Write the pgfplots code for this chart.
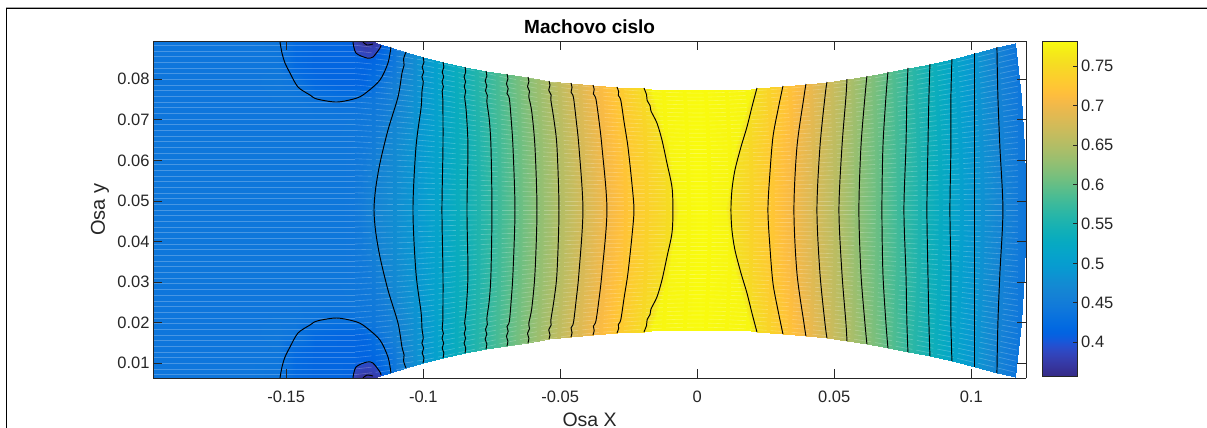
\documentclass[border=0pt]{standalone}
\usepackage{fontspec}
\setmainfont{Liberation Sans}
\usepackage{pgfplots}
\usepackage{pgfplotstable}
\pgfplotsset{compat=1.18}
\definecolor{axc}{rgb}{0.15,0.15,0.15}
\pgfplotsset{colormap={parula}{rgb=(0.2081,0.1663,0.5292) rgb=(0.2116,0.1898,0.5777) rgb=(0.2123,0.2138,0.6270) rgb=(0.2081,0.2386,0.6771) rgb=(0.1959,0.2645,0.7279) rgb=(0.1707,0.2919,0.7792) rgb=(0.1253,0.3242,0.8303) rgb=(0.0591,0.3598,0.8683) rgb=(0.0117,0.3875,0.8820) rgb=(0.0060,0.4086,0.8828) rgb=(0.0165,0.4266,0.8786) rgb=(0.0329,0.4430,0.8720) rgb=(0.0498,0.4586,0.8641) rgb=(0.0629,0.4737,0.8554) rgb=(0.0723,0.4887,0.8467) rgb=(0.0779,0.5040,0.8384) rgb=(0.0793,0.5200,0.8312) rgb=(0.0749,0.5375,0.8263) rgb=(0.0641,0.5570,0.8240) rgb=(0.0488,0.5772,0.8228) rgb=(0.0343,0.5966,0.8199) rgb=(0.0265,0.6137,0.8135) rgb=(0.0239,0.6287,0.8038) rgb=(0.0231,0.6418,0.7913) rgb=(0.0228,0.6535,0.7768) rgb=(0.0267,0.6642,0.7607) rgb=(0.0384,0.6743,0.7436) rgb=(0.0590,0.6838,0.7254) rgb=(0.0843,0.6928,0.7062) rgb=(0.1133,0.7015,0.6859) rgb=(0.1453,0.7098,0.6646) rgb=(0.1801,0.7177,0.6424) rgb=(0.2178,0.7250,0.6193) rgb=(0.2586,0.7317,0.5954) rgb=(0.3022,0.7376,0.5712) rgb=(0.3482,0.7424,0.5473) rgb=(0.3953,0.7459,0.5244) rgb=(0.4420,0.7481,0.5033) rgb=(0.4871,0.7491,0.4840) rgb=(0.5300,0.7491,0.4661) rgb=(0.5709,0.7485,0.4494) rgb=(0.6099,0.7473,0.4337) rgb=(0.6473,0.7456,0.4188) rgb=(0.6834,0.7435,0.4044) rgb=(0.7184,0.7411,0.3905) rgb=(0.7525,0.7384,0.3768) rgb=(0.7858,0.7356,0.3633) rgb=(0.8185,0.7327,0.3498) rgb=(0.8507,0.7299,0.3360) rgb=(0.8824,0.7274,0.3217) rgb=(0.9139,0.7258,0.3063) rgb=(0.9450,0.7261,0.2886) rgb=(0.9739,0.7314,0.2666) rgb=(0.9938,0.7455,0.2403) rgb=(0.9990,0.7653,0.2164) rgb=(0.9955,0.7861,0.1967) rgb=(0.9880,0.8066,0.1794) rgb=(0.9789,0.8271,0.1633) rgb=(0.9697,0.8481,0.1475) rgb=(0.9626,0.8705,0.1309) rgb=(0.9589,0.8949,0.1132) rgb=(0.9598,0.9218,0.0948) rgb=(0.9661,0.9514,0.0755) rgb=(0.9763,0.9831,0.0538)}}
% pale mesh rows: first column x, then the y of each row at that x
\pgfplotstableread[header=false]{
-0.19865 0.0464 0.0450 0.0436 0.0422 0.0408 0.0394 0.0380 0.0366 0.0352 0.0338 0.0324 0.0310 0.0296 0.0282 0.0268 0.0254 0.0240 0.0226 0.0212 0.0198 0.0184 0.0170 0.0156 0.0142 0.0128 0.0114 0.0100 0.0086 0.0072 0.0492 0.0506 0.0520 0.0534 0.0548 0.0562 0.0576 0.0590 0.0604 0.0618 0.0632 0.0646 0.0660 0.0674 0.0688 0.0702 0.0716 0.0730 0.0744 0.0758 0.0772 0.0786 0.0800 0.0814 0.0828 0.0842 0.0856 0.0870 0.0884 0.0478
-0.125 0.0464 0.0450 0.0436 0.0422 0.0408 0.0394 0.0380 0.0366 0.0352 0.0338 0.0324 0.0310 0.0296 0.0282 0.0268 0.0254 0.0240 0.0226 0.0212 0.0198 0.0184 0.0170 0.0156 0.0142 0.0128 0.0114 0.0100 0.0086 0.0072 0.0492 0.0506 0.0520 0.0534 0.0548 0.0562 0.0576 0.0590 0.0604 0.0618 0.0632 0.0646 0.0660 0.0674 0.0688 0.0702 0.0716 0.0730 0.0744 0.0758 0.0772 0.0786 0.0800 0.0814 0.0828 0.0842 0.0856 0.0870 0.0884 0.0478
}\streakL
\pgfplotstableread[header=false]{
-0.125 0.0464 0.0450 0.0436 0.0422 0.0408 0.0394 0.0380 0.0366 0.0352 0.0338 0.0324 0.0310 0.0296 0.0282 0.0268 0.0254 0.0240 0.0226 0.0212 0.0198 0.0184 0.0170 0.0156 0.0142 0.0128 0.0114 0.0100 0.0086 0.0072 0.0492 0.0506 0.0520 0.0534 0.0548 0.0562 0.0576 0.0590 0.0604 0.0618 0.0632 0.0646 0.0660 0.0674 0.0688 0.0702 0.0716 0.0730 0.0744 0.0758 0.0772 0.0786 0.0800 0.0814 0.0828 0.0842 0.0856 0.0870 0.0884 0.0478
-0.10 0.0465 0.0451 0.0438 0.0425 0.0412 0.0399 0.0385 0.0372 0.0359 0.0346 0.0333 0.0319 0.0306 0.0293 0.0280 0.0267 0.0253 0.0240 0.0227 0.0214 0.0201 0.0187 0.0174 0.0161 0.0148 0.0135 0.0121 0.0108 0.0095 0.0491 0.0504 0.0517 0.0531 0.0544 0.0557 0.0570 0.0583 0.0597 0.0610 0.0623 0.0636 0.0649 0.0663 0.0676 0.0689 0.0702 0.0715 0.0729 0.0742 0.0755 0.0768 0.0781 0.0795 0.0808 0.0821 0.0834 0.0847 0.0861 0.0478
-0.05 0.0467 0.0456 0.0446 0.0435 0.0424 0.0413 0.0402 0.0392 0.0381 0.0370 0.0359 0.0348 0.0338 0.0327 0.0316 0.0305 0.0295 0.0284 0.0273 0.0262 0.0251 0.0241 0.0230 0.0219 0.0208 0.0198 0.0187 0.0176 0.0165 0.0489 0.0499 0.0510 0.0521 0.0532 0.0543 0.0553 0.0564 0.0575 0.0586 0.0596 0.0607 0.0618 0.0629 0.0640 0.0650 0.0661 0.0672 0.0683 0.0693 0.0704 0.0715 0.0726 0.0737 0.0747 0.0758 0.0769 0.0780 0.0790 0.0478
0 0.0468 0.0458 0.0448 0.0438 0.0428 0.0418 0.0408 0.0398 0.0388 0.0378 0.0368 0.0358 0.0348 0.0339 0.0329 0.0319 0.0309 0.0299 0.0289 0.0279 0.0269 0.0259 0.0249 0.0239 0.0229 0.0219 0.0209 0.0199 0.0189 0.0488 0.0498 0.0508 0.0518 0.0528 0.0537 0.0548 0.0557 0.0567 0.0577 0.0587 0.0597 0.0607 0.0617 0.0627 0.0637 0.0647 0.0657 0.0667 0.0677 0.0687 0.0697 0.0707 0.0717 0.0727 0.0737 0.0747 0.0756 0.0766 0.0478
0.05 0.0467 0.0456 0.0446 0.0435 0.0424 0.0413 0.0403 0.0392 0.0381 0.0370 0.0360 0.0349 0.0338 0.0327 0.0317 0.0306 0.0295 0.0284 0.0274 0.0263 0.0252 0.0241 0.0231 0.0220 0.0209 0.0199 0.0188 0.0177 0.0166 0.0489 0.0499 0.0510 0.0521 0.0532 0.0542 0.0553 0.0564 0.0575 0.0585 0.0596 0.0607 0.0617 0.0628 0.0639 0.0650 0.0660 0.0671 0.0682 0.0693 0.0703 0.0714 0.0725 0.0736 0.0746 0.0757 0.0768 0.0779 0.0789 0.0478
0.09 0.0465 0.0453 0.0441 0.0428 0.0416 0.0404 0.0391 0.0379 0.0367 0.0354 0.0342 0.0330 0.0317 0.0305 0.0292 0.0280 0.0268 0.0255 0.0243 0.0231 0.0218 0.0206 0.0194 0.0181 0.0169 0.0156 0.0144 0.0132 0.0119 0.0490 0.0503 0.0515 0.0527 0.0540 0.0552 0.0564 0.0577 0.0589 0.0601 0.0614 0.0626 0.0639 0.0651 0.0663 0.0676 0.0688 0.0700 0.0713 0.0725 0.0737 0.0750 0.0762 0.0774 0.0787 0.0799 0.0812 0.0824 0.0836 0.0478
0.117 0.0464 0.0450 0.0436 0.0422 0.0408 0.0395 0.0381 0.0367 0.0353 0.0339 0.0325 0.0312 0.0298 0.0284 0.0270 0.0256 0.0242 0.0228 0.0215 0.0201 0.0187 0.0173 0.0159 0.0145 0.0132 0.0118 0.0104 0.0090 0.0076 0.0492 0.0506 0.0519 0.0533 0.0547 0.0561 0.0575 0.0589 0.0603 0.0616 0.0630 0.0644 0.0658 0.0672 0.0686 0.0700 0.0713 0.0727 0.0741 0.0755 0.0769 0.0783 0.0797 0.0810 0.0824 0.0838 0.0852 0.0866 0.0880 0.0478
}\streakR
\begin{document}
\begin{tikzpicture}
\path[use as bounding box] (0,0) rectangle (1207pt,428pt);
\draw[gray!70,line width=1pt] (6pt,0) -- (6pt,420.6pt) -- (1207pt,420.6pt);
\draw[black,line width=1.2pt] (6.8pt,0) -- (6.8pt,419.7pt) -- (1207pt,419.7pt);
\begin{axis}[
 at={(153pt,49.7pt)},anchor=south west,
 scale only axis,width=873.3pt,height=337pt,
 view={0}{90},
 xmin=-0.19865,xmax=0.1201,ymin=0.0063,ymax=0.08937,
 point meta min=0.3573,point meta max=0.7813,
 colormap name=parula,
 axis on top,
 scaled x ticks=false,scaled y ticks=false,
 axis line style={axc,line width=0.8pt},
 tick style={axc,line width=0.8pt},
 tick align=inside,major tick length=9pt,
 font=\fontsize{16.5}{18}\selectfont,
 tick label style={text=axc},
 xticklabel style={yshift=-9pt},
 xtick={-0.15,-0.1,-0.05,0,0.05,0.1},
 xticklabels={-0.15,-0.1,-0.05,0,0.05,0.1},
 ytick={0.01,0.02,0.03,0.04,0.05,0.06,0.07,0.08},
 yticklabels={0.01,0.02,0.03,0.04,0.05,0.06,0.07,0.08},
 title={\textbf{Machovo cislo}},
 title style={at={(axis description cs:0.5,1)},anchor=center,yshift=9pt,font=\fontsize{19}{21}\selectfont},
 xlabel={Osa X},
 xlabel style={at={(axis description cs:0.5,0)},anchor=center,inner sep=0pt,yshift=-41.5pt,font=\fontsize{19.5}{21}\selectfont,text=axc},
 ylabel={Osa y},
 ylabel style={at={(axis description cs:0,0.5)},anchor=center,yshift=53pt,font=\fontsize{20}{22}\selectfont,text=axc},
]
% left part of the field
\addplot3[surf,shader=interp] table {
-0.19865 0.08937 0.44
-0.16325 0.08937 0.44
-0.15303 0.08937 0.438
-0.14683 0.08937 0.42
-0.13953 0.08937 0.415
-0.13040 0.08937 0.415
-0.12566 0.08937 0.41
-0.12091 0.08937 0.36
-0.11580 0.08870 0.405
-0.11106 0.08771 0.435
-0.10631 0.08673 0.4633

-0.19865 0.08796 0.44
-0.16325 0.08796 0.44
-0.15303 0.08796 0.438
-0.14683 0.08796 0.42
-0.13953 0.08796 0.415
-0.13040 0.08796 0.415
-0.12566 0.08796 0.412
-0.12091 0.08796 0.39
-0.11580 0.08722 0.413
-0.11106 0.08624 0.44
-0.10668 0.08574 0.4633

-0.19865 0.08476 0.44
-0.16325 0.08476 0.44
-0.15303 0.08476 0.44
-0.14683 0.08476 0.42
-0.13953 0.08476 0.415
-0.13040 0.08476 0.415
-0.12566 0.08476 0.415
-0.12091 0.08476 0.412
-0.11580 0.08476 0.42
-0.11142 0.08476 0.437
-0.10686 0.08476 0.4633

-0.19865 0.08229 0.44
-0.16325 0.08229 0.44
-0.15303 0.08229 0.441
-0.14683 0.08229 0.422
-0.13953 0.08229 0.415
-0.13040 0.08229 0.415
-0.12566 0.08229 0.415
-0.12128 0.08229 0.415
-0.11653 0.08229 0.425
-0.11215 0.08229 0.44
-0.10741 0.08229 0.4633

-0.19865 0.07860 0.44
-0.16325 0.07860 0.44
-0.15303 0.07860 0.442
-0.14683 0.07860 0.438
-0.13953 0.07860 0.42
-0.13040 0.07860 0.415
-0.12602 0.07860 0.415
-0.12164 0.07860 0.415
-0.11726 0.07860 0.433
-0.11288 0.07860 0.45
-0.10832 0.07860 0.4633

-0.19865 0.07490 0.44
-0.16325 0.07490 0.44
-0.15303 0.07490 0.441
-0.14683 0.07490 0.441
-0.13953 0.07490 0.4368
-0.13040 0.07490 0.433
-0.12639 0.07490 0.433
-0.12201 0.07490 0.44
-0.11799 0.07490 0.443
-0.11361 0.07490 0.45
-0.10960 0.07490 0.4633

-0.19865 0.06997 0.44
-0.16325 0.06997 0.44
-0.15303 0.06997 0.44
-0.14683 0.06997 0.44
-0.13953 0.06997 0.44
-0.13040 0.06997 0.44
-0.12675 0.06997 0.441
-0.12274 0.06997 0.442
-0.11909 0.06997 0.446
-0.11507 0.06997 0.452
-0.11142 0.06997 0.4633

-0.19865 0.06504 0.441
-0.16325 0.06504 0.441
-0.15303 0.06504 0.441
-0.14683 0.06504 0.441
-0.13953 0.06504 0.441
-0.13040 0.06504 0.441
-0.12712 0.06504 0.442
-0.12383 0.06504 0.443
-0.12018 0.06504 0.447
-0.11690 0.06504 0.454
-0.11361 0.06504 0.4633

-0.19865 0.05764 0.441
-0.16325 0.05764 0.441
-0.15303 0.05764 0.441
-0.14683 0.05764 0.441
-0.13953 0.05764 0.441
-0.13040 0.05764 0.441
-0.12748 0.05764 0.442
-0.12493 0.05764 0.444
-0.12201 0.05764 0.448
-0.11909 0.05764 0.455
-0.11580 0.05764 0.4633

-0.19865 0.04778 0.441
-0.16325 0.04778 0.441
-0.15303 0.04778 0.441
-0.14683 0.04778 0.441
-0.13953 0.04778 0.441
-0.13040 0.04778 0.441
-0.12785 0.04778 0.442
-0.12529 0.04778 0.444
-0.12310 0.04778 0.448
-0.12055 0.04778 0.455
-0.11799 0.04778 0.4633

-0.19865 0.03792 0.441
-0.16325 0.03792 0.441
-0.15303 0.03792 0.441
-0.14683 0.03792 0.441
-0.13953 0.03792 0.441
-0.13040 0.03792 0.441
-0.12748 0.03792 0.442
-0.12493 0.03792 0.444
-0.12201 0.03792 0.448
-0.11909 0.03792 0.455
-0.11580 0.03792 0.4633

-0.19865 0.03052 0.441
-0.16325 0.03052 0.441
-0.15303 0.03052 0.441
-0.14683 0.03052 0.441
-0.13953 0.03052 0.441
-0.13040 0.03052 0.441
-0.12712 0.03052 0.442
-0.12383 0.03052 0.443
-0.12018 0.03052 0.447
-0.11690 0.03052 0.454
-0.11361 0.03052 0.4633

-0.19865 0.02559 0.44
-0.16325 0.02559 0.44
-0.15303 0.02559 0.44
-0.14683 0.02559 0.44
-0.13953 0.02559 0.44
-0.13040 0.02559 0.44
-0.12675 0.02559 0.441
-0.12274 0.02559 0.442
-0.11909 0.02559 0.446
-0.11507 0.02559 0.452
-0.11142 0.02559 0.4633

-0.19865 0.02066 0.44
-0.16325 0.02066 0.44
-0.15303 0.02066 0.441
-0.14683 0.02066 0.441
-0.13953 0.02066 0.4368
-0.13040 0.02066 0.433
-0.12639 0.02066 0.433
-0.12201 0.02066 0.44
-0.11799 0.02066 0.443
-0.11361 0.02066 0.45
-0.10960 0.02066 0.4633

-0.19865 0.01696 0.44
-0.16325 0.01696 0.44
-0.15303 0.01696 0.442
-0.14683 0.01696 0.438
-0.13953 0.01696 0.42
-0.13040 0.01696 0.415
-0.12602 0.01696 0.415
-0.12164 0.01696 0.415
-0.11726 0.01696 0.433
-0.11288 0.01696 0.45
-0.10832 0.01696 0.4633

-0.19865 0.01327 0.44
-0.16325 0.01327 0.44
-0.15303 0.01327 0.441
-0.14683 0.01327 0.422
-0.13953 0.01327 0.415
-0.13040 0.01327 0.415
-0.12566 0.01327 0.415
-0.12128 0.01327 0.415
-0.11653 0.01327 0.425
-0.11215 0.01327 0.44
-0.10741 0.01327 0.4633

-0.19865 0.01080 0.44
-0.16325 0.01080 0.44
-0.15303 0.01080 0.44
-0.14683 0.01080 0.42
-0.13953 0.01080 0.415
-0.13040 0.01080 0.415
-0.12566 0.01080 0.415
-0.12091 0.01080 0.412
-0.11580 0.01080 0.42
-0.11142 0.01080 0.437
-0.10686 0.01080 0.4633

-0.19865 0.00760 0.44
-0.16325 0.00760 0.44
-0.15303 0.00760 0.438
-0.14683 0.00760 0.42
-0.13953 0.00760 0.415
-0.13040 0.00760 0.415
-0.12566 0.00760 0.412
-0.12091 0.00760 0.39
-0.11580 0.00834 0.413
-0.11106 0.00932 0.44
-0.10668 0.00982 0.4633

-0.19865 0.00619 0.44
-0.16325 0.00619 0.44
-0.15303 0.00619 0.438
-0.14683 0.00619 0.42
-0.13953 0.00619 0.415
-0.13040 0.00619 0.415
-0.12566 0.00619 0.41
-0.12091 0.00619 0.36
-0.11580 0.00686 0.405
-0.11106 0.00785 0.435
-0.10631 0.00883 0.4633
};
% the two dark spots at the wall
\addplot3[surf,shader=interp] table {
-0.12566 0.08937 0.385
-0.12201 0.08937 0.36
-0.11836 0.08937 0.365
-0.11543 0.08845 0.385

-0.12530 0.08796 0.385
-0.12128 0.08771 0.378
-0.11836 0.08796 0.38
-0.11580 0.08780 0.388

-0.12457 0.08648 0.39
-0.12055 0.08525 0.39
-0.11836 0.08550 0.39
-0.11580 0.08771 0.39
};
\addplot3[surf,shader=interp] table {
-0.12566 0.00619 0.385
-0.12201 0.00619 0.36
-0.11836 0.00619 0.365
-0.11543 0.00711 0.385

-0.12530 0.00760 0.385
-0.12128 0.00785 0.378
-0.11836 0.00760 0.38
-0.11580 0.00776 0.388

-0.12457 0.00908 0.39
-0.12055 0.01031 0.39
-0.11836 0.01006 0.39
-0.11580 0.00785 0.39
};
% right part of the field: each scanline runs along one contour
\addplot3[surf,shader=interp] table {
-0.10631 0.08673 0.4633
-0.10923 0.07564 0.4633
-0.11471 0.06331 0.4633
-0.11799 0.04778 0.4633
-0.11471 0.03225 0.4633
-0.10923 0.01992 0.4633
-0.10631 0.00883 0.4633

-0.10011 0.08550 0.4898
-0.10047 0.07564 0.4898
-0.10266 0.06331 0.4898
-0.10376 0.04778 0.4898
-0.10266 0.03225 0.4898
-0.10047 0.01992 0.4898
-0.10011 0.01006 0.4898

-0.09281 0.08426 0.5163
-0.09281 0.07564 0.5163
-0.09281 0.06331 0.5163
-0.09318 0.04778 0.5163
-0.09281 0.03225 0.5163
-0.09281 0.01992 0.5163
-0.09281 0.01130 0.5163

-0.08478 0.08303 0.5428
-0.08478 0.07564 0.5428
-0.08369 0.06331 0.5428
-0.08405 0.04778 0.5428
-0.08369 0.03225 0.5428
-0.08478 0.01992 0.5428
-0.08478 0.01253 0.5428

-0.07712 0.08205 0.5693
-0.07675 0.07564 0.5693
-0.07529 0.06331 0.5693
-0.07493 0.04778 0.5693
-0.07529 0.03225 0.5693
-0.07675 0.01992 0.5693
-0.07712 0.01351 0.5693

-0.06945 0.08131 0.5958
-0.06872 0.07564 0.5958
-0.06726 0.06331 0.5958
-0.06653 0.04778 0.5958
-0.06726 0.03225 0.5958
-0.06872 0.01992 0.5958
-0.06945 0.01425 0.5958

-0.06179 0.08057 0.6223
-0.06106 0.07564 0.6223
-0.05923 0.06331 0.6223
-0.05850 0.04778 0.6223
-0.05923 0.03225 0.6223
-0.06106 0.01992 0.6223
-0.06179 0.01499 0.6223

-0.05412 0.07958 0.6488
-0.05303 0.07564 0.6488
-0.05120 0.06331 0.6488
-0.05047 0.04778 0.6488
-0.05120 0.03225 0.6488
-0.05303 0.01992 0.6488
-0.05412 0.01598 0.6488

-0.04609 0.07909 0.6753
-0.04537 0.07564 0.6753
-0.04318 0.06331 0.6753
-0.04172 0.04778 0.6753
-0.04318 0.03225 0.6753
-0.04537 0.01992 0.6753
-0.04609 0.01647 0.6753

-0.03807 0.07859 0.7018
-0.03734 0.07564 0.7018
-0.03478 0.06331 0.7018
-0.03296 0.04778 0.7018
-0.03478 0.03225 0.7018
-0.03734 0.01992 0.7018
-0.03807 0.01697 0.7018

-0.02931 0.07810 0.7283
-0.02821 0.07564 0.7283
-0.02529 0.06331 0.7283
-0.02310 0.04778 0.7283
-0.02529 0.03225 0.7283
-0.02821 0.01992 0.7283
-0.02931 0.01746 0.7283

-0.01945 0.07785 0.7548
-0.01799 0.07490 0.7548
-0.01252 0.06331 0.7548
-0.00887 0.04778 0.7548
-0.01252 0.03225 0.7548
-0.01799 0.02066 0.7548
-0.01945 0.01771 0.7548

-0.01700 0.07760 0.777
-0.01550 0.07490 0.777
-0.01030 0.06331 0.777
-0.00667 0.04778 0.777
-0.01030 0.03225 0.777
-0.01550 0.02066 0.777
-0.01700 0.01796 0.777

0.00099 0.07736 0.7813
0.00099 0.07564 0.7813
0.00135 0.06331 0.7813
0.00172 0.04778 0.7813
0.00135 0.03225 0.7813
0.00099 0.01992 0.7813
0.00099 0.01820 0.7813

0.01960 0.07760 0.777
0.01886 0.07564 0.777
0.01375 0.06331 0.777
0.01010 0.04778 0.777
0.01375 0.03225 0.777
0.01886 0.01992 0.777
0.01960 0.01796 0.777

0.02179 0.07785 0.7548
0.02106 0.07564 0.7548
0.01595 0.06331 0.7548
0.01230 0.04778 0.7548
0.01595 0.03225 0.7548
0.02106 0.01992 0.7548
0.02179 0.01771 0.7548

0.03128 0.07835 0.7283
0.03055 0.07564 0.7283
0.02726 0.06331 0.7283
0.02580 0.04778 0.7283
0.02726 0.03225 0.7283
0.03055 0.01992 0.7283
0.03128 0.01721 0.7283

0.03967 0.07884 0.7018
0.03894 0.07564 0.7018
0.03639 0.06331 0.7018
0.03529 0.04778 0.7018
0.03639 0.03225 0.7018
0.03894 0.01992 0.7018
0.03967 0.01672 0.7018

0.04734 0.07933 0.6753
0.04661 0.07564 0.6753
0.04478 0.06331 0.6753
0.04369 0.04778 0.6753
0.04478 0.03225 0.6753
0.04661 0.01992 0.6753
0.04734 0.01623 0.6753

0.05464 0.08007 0.6488
0.05427 0.07564 0.6488
0.05281 0.06331 0.6488
0.05172 0.04778 0.6488
0.05281 0.03225 0.6488
0.05427 0.01992 0.6488
0.05464 0.01549 0.6488

0.06193 0.08081 0.6223
0.06120 0.07564 0.6223
0.05974 0.06331 0.6223
0.05901 0.04778 0.6223
0.05974 0.03225 0.6223
0.06120 0.01992 0.6223
0.06193 0.01475 0.6223

0.06960 0.08180 0.5958
0.06887 0.07564 0.5958
0.06777 0.06331 0.5958
0.06741 0.04778 0.5958
0.06777 0.03225 0.5958
0.06887 0.01992 0.5958
0.06960 0.01376 0.5958

0.07690 0.08279 0.5693
0.07653 0.07564 0.5693
0.07617 0.06331 0.5693
0.07544 0.04778 0.5693
0.07617 0.03225 0.5693
0.07653 0.01992 0.5693
0.07690 0.01277 0.5693

0.08493 0.08377 0.5428
0.08456 0.07564 0.5428
0.08420 0.06331 0.5428
0.08383 0.04778 0.5428
0.08420 0.03225 0.5428
0.08456 0.01992 0.5428
0.08493 0.01179 0.5428

0.09296 0.08500 0.5163
0.09259 0.07564 0.5163
0.09259 0.06331 0.5163
0.09223 0.04778 0.5163
0.09259 0.03225 0.5163
0.09259 0.01992 0.5163
0.09296 0.01056 0.5163

0.10135 0.08648 0.4898
0.10135 0.07564 0.4898
0.10135 0.06331 0.4898
0.10135 0.04778 0.4898
0.10135 0.03225 0.4898
0.10135 0.01992 0.4898
0.10135 0.00908 0.4898

0.10938 0.08796 0.4633
0.10974 0.07564 0.4633
0.11047 0.06331 0.4633
0.11157 0.04778 0.4633
0.11047 0.03225 0.4633
0.10974 0.01992 0.4633
0.10938 0.00760 0.4633

0.11595 0.08895 0.44
0.11815 0.07564 0.44
0.11923 0.06331 0.44
0.11996 0.04778 0.44
0.11923 0.03225 0.44
0.11815 0.01992 0.44
0.11595 0.00661 0.44
};
% pale mesh rows
\pgfplotsinvokeforeach{1,...,59}{
 \addplot[white,opacity=0.24,line width=0.6pt,no markers,forget plot] table[x index=0,y index=#1] {\streakL};
 \addplot[white,opacity=0.24,line width=0.6pt,no markers,forget plot,smooth,tension=0.5,dash pattern=on 17pt off 4pt] table[x index=0,y index=#1] {\streakR};
}
% contour lines
\pgfplotsset{cline/.style={black,line width=0.95pt,smooth,tension=0.5,no markers}}
\addplot[cline] coordinates {(-0.10631,0.08673)(-0.10720,0.08500)(-0.10700,0.08350)(-0.10777,0.08155)(-0.10923,0.07564)(-0.11288,0.06750)(-0.11580,0.05936)(-0.11740,0.05300)(-0.11799,0.04778)(-0.11740,0.04256)(-0.11580,0.03620)(-0.11288,0.02806)(-0.10923,0.01992)(-0.10777,0.01401)(-0.10700,0.01206)(-0.10720,0.01056)(-0.10631,0.00883)};
\addplot[cline] coordinates {(-0.10011,0.0855)(-0.09975,0.0842)(-0.10040,0.0830)(-0.09985,0.0818)(-0.10050,0.0806)(-0.10000,0.0794)(-0.10047,0.0770)(-0.10080,0.0730)(-0.10266,0.06331)(-0.10376,0.04778)(-0.10266,0.03225)(-0.10080,0.02256)(-0.10047,0.01856)(-0.10000,0.01616)(-0.10050,0.01496)(-0.09985,0.01376)(-0.10040,0.01256)(-0.09975,0.01136)(-0.10011,0.01006)};
\addplot[cline] coordinates {(-0.09281,0.08426)(-0.09250,0.0830)(-0.09310,0.0818)(-0.09255,0.0806)(-0.09315,0.0794)(-0.09265,0.0782)(-0.09310,0.0770)(-0.09285,0.0745)(-0.09281,0.06331)(-0.09318,0.04778)(-0.09281,0.03225)(-0.09285,0.02106)(-0.09310,0.01856)(-0.09265,0.01736)(-0.09315,0.01616)(-0.09255,0.01496)(-0.09310,0.01376)(-0.09250,0.01256)(-0.09281,0.0113)};
\addplot[cline] coordinates {(-0.08478,0.08303)(-0.08450,0.0818)(-0.08510,0.0806)(-0.08455,0.0794)(-0.08505,0.0782)(-0.08450,0.0770)(-0.08490,0.0757)(-0.08430,0.0720)(-0.08369,0.06331)(-0.08405,0.04778)(-0.08369,0.03225)(-0.08430,0.02356)(-0.08490,0.01986)(-0.08450,0.01856)(-0.08505,0.01736)(-0.08455,0.01616)(-0.08510,0.01496)(-0.08450,0.01376)(-0.08478,0.01253)};
\addplot[cline] coordinates {(-0.07712,0.08205)(-0.07680,0.0808)(-0.07740,0.0796)(-0.07680,0.0784)(-0.07730,0.0772)(-0.07660,0.0760)(-0.07680,0.0745)(-0.07590,0.0700)(-0.07529,0.06331)(-0.07493,0.04778)(-0.07529,0.03225)(-0.07590,0.02556)(-0.07680,0.02106)(-0.07660,0.01956)(-0.07730,0.01836)(-0.07680,0.01716)(-0.07740,0.01596)(-0.07680,0.01476)(-0.07712,0.01351)};
\addplot[cline] coordinates {(-0.06945,0.08131)(-0.06910,0.0801)(-0.06965,0.0789)(-0.06900,0.0777)(-0.06945,0.0765)(-0.06860,0.0753)(-0.06790,0.0700)(-0.06726,0.06331)(-0.06653,0.04778)(-0.06726,0.03225)(-0.06790,0.02556)(-0.06860,0.02026)(-0.06945,0.01906)(-0.06900,0.01786)(-0.06965,0.01666)(-0.06910,0.01546)(-0.06945,0.01425)};
\addplot[cline] coordinates {(-0.06179,0.08057)(-0.06145,0.0794)(-0.06195,0.0782)(-0.06120,0.0770)(-0.06150,0.0758)(-0.06040,0.0720)(-0.05923,0.06331)(-0.05850,0.04778)(-0.05923,0.03225)(-0.06040,0.02356)(-0.06150,0.01976)(-0.06120,0.01856)(-0.06195,0.01736)(-0.06145,0.01616)(-0.06179,0.01499)};
\addplot[cline] coordinates {(-0.05412,0.07958)(-0.05375,0.0785)(-0.05420,0.0773)(-0.05330,0.0761)(-0.05345,0.0750)(-0.05230,0.0700)(-0.05120,0.06331)(-0.05047,0.04778)(-0.05120,0.03225)(-0.05230,0.02556)(-0.05345,0.02056)(-0.05330,0.01946)(-0.05420,0.01826)(-0.05375,0.01706)(-0.05412,0.01598)};
\addplot[cline] coordinates {(-0.04609,0.07909)(-0.04570,0.0780)(-0.04605,0.0768)(-0.04520,0.0756)(-0.04420,0.0700)(-0.04318,0.06331)(-0.04172,0.04778)(-0.04318,0.03225)(-0.04420,0.02556)(-0.04520,0.01996)(-0.04605,0.01876)(-0.04570,0.01756)(-0.04609,0.01647)};
\addplot[cline] coordinates {(-0.03807,0.07859)(-0.03760,0.0775)(-0.03790,0.0764)(-0.03700,0.0752)(-0.03590,0.0700)(-0.03478,0.06331)(-0.03296,0.04778)(-0.03478,0.03225)(-0.03590,0.02556)(-0.03700,0.02036)(-0.03790,0.01916)(-0.03760,0.01806)(-0.03807,0.01697)};
\addplot[cline] coordinates {(-0.02931,0.0781)(-0.02870,0.0770)(-0.02880,0.0760)(-0.02790,0.0748)(-0.02660,0.0690)(-0.02529,0.06331)(-0.02380,0.0540)(-0.02310,0.04778)(-0.02380,0.04156)(-0.02529,0.03225)(-0.02660,0.02656)(-0.02790,0.02076)(-0.02880,0.01956)(-0.02870,0.01856)(-0.02931,0.01746)};
\addplot[cline] coordinates {(-0.01945,0.07785)(-0.01850,0.0762)(-0.01830,0.0748)(-0.01720,0.0735)(-0.01690,0.0722)(-0.01471,0.06923)(-0.01288,0.06504)(-0.01106,0.05936)(-0.00923,0.05345)(-0.00887,0.04778)(-0.00923,0.04211)(-0.01106,0.0362)(-0.01288,0.03052)(-0.01471,0.02633)(-0.01690,0.02336)(-0.01720,0.02206)(-0.01830,0.02076)(-0.01850,0.01936)(-0.01945,0.01771)};
\addplot[cline] coordinates {(0.02179,0.07785)(0.01996,0.07317)(0.01814,0.06824)(0.01595,0.06331)(0.01376,0.05764)(0.01266,0.05271)(0.01230,0.04778)(0.01266,0.04285)(0.01376,0.03792)(0.01595,0.03225)(0.01814,0.02732)(0.01996,0.02239)(0.02179,0.01771)};
\addplot[cline] coordinates {(0.03128,0.07835)(0.02945,0.07243)(0.02763,0.06578)(0.02653,0.05690)(0.02580,0.04778)(0.02653,0.03866)(0.02763,0.02978)(0.02945,0.02313)(0.03128,0.01721)};
\addplot[cline] coordinates {(0.03967,0.07884)(0.03894,0.07564)(0.03639,0.06331)(0.03529,0.04778)(0.03639,0.03225)(0.03894,0.01992)(0.03967,0.01672)};
\addplot[cline] coordinates {(0.04734,0.07933)(0.04661,0.07564)(0.04478,0.06331)(0.04369,0.04778)(0.04478,0.03225)(0.04661,0.01992)(0.04734,0.01623)};
\addplot[cline] coordinates {(0.05464,0.08007)(0.05427,0.07564)(0.05281,0.06331)(0.05172,0.04778)(0.05281,0.03225)(0.05427,0.01992)(0.05464,0.01549)};
\addplot[cline] coordinates {(0.06193,0.08081)(0.06120,0.07564)(0.05974,0.06331)(0.05901,0.04778)(0.05974,0.03225)(0.06120,0.01992)(0.06193,0.01475)};
\addplot[cline] coordinates {(0.06960,0.08180)(0.06887,0.07564)(0.06777,0.06331)(0.06741,0.04778)(0.06777,0.03225)(0.06887,0.01992)(0.06960,0.01376)};
\addplot[cline] coordinates {(0.07690,0.08279)(0.07653,0.07564)(0.07617,0.06331)(0.07544,0.04778)(0.07617,0.03225)(0.07653,0.01992)(0.07690,0.01277)};
\addplot[cline] coordinates {(0.08493,0.08377)(0.08456,0.07564)(0.08420,0.06331)(0.08383,0.04778)(0.08420,0.03225)(0.08456,0.01992)(0.08493,0.01179)};
\addplot[cline] coordinates {(0.09296,0.08500)(0.09259,0.07564)(0.09259,0.06331)(0.09223,0.04778)(0.09259,0.03225)(0.09259,0.01992)(0.09296,0.01056)};
\addplot[cline] coordinates {(0.10135,0.08648)(0.10135,0.07564)(0.10135,0.06331)(0.10135,0.04778)(0.10135,0.03225)(0.10135,0.01992)(0.10135,0.00908)};
\addplot[cline] coordinates {(0.10938,0.08796)(0.10974,0.07564)(0.11047,0.06331)(0.11157,0.04778)(0.11047,0.03225)(0.10974,0.01992)(0.10938,0.00760)};
% closed low regions at the walls
\addplot[cline] coordinates {(-0.15230,0.08919)(-0.15157,0.08648)(-0.15047,0.08402)(-0.14865,0.08155)(-0.14573,0.07810)(-0.14135,0.07613)(-0.13880,0.07514)(-0.13150,0.07440)(-0.12420,0.07539)(-0.12055,0.07687)(-0.11580,0.07983)(-0.11288,0.08402)(-0.11179,0.08796)};
\addplot[cline] coordinates {(-0.15230,0.00637)(-0.15157,0.00908)(-0.15047,0.01154)(-0.14865,0.01401)(-0.14573,0.01746)(-0.14135,0.01943)(-0.13880,0.02042)(-0.13150,0.02116)(-0.12420,0.02017)(-0.12055,0.01869)(-0.11580,0.01573)(-0.11288,0.01154)(-0.11179,0.00760)};
\addplot[cline] coordinates {(-0.12566,0.08919)(-0.12457,0.08648)(-0.12055,0.08525)(-0.11836,0.08550)(-0.11580,0.08771)(-0.11543,0.08845)};
\addplot[cline] coordinates {(-0.12566,0.00637)(-0.12457,0.00908)(-0.12055,0.01031)(-0.11836,0.01006)(-0.11580,0.00785)(-0.11543,0.00711)};
\addplot[cline] coordinates {(-0.12201,0.08919)(-0.12055,0.08845)(-0.11836,0.08870)};
\addplot[cline] coordinates {(-0.12201,0.00637)(-0.12055,0.00711)(-0.11836,0.00686)};
\end{axis}
% colour scale
\begin{axis}[
 at={(1042.3pt,52pt)},anchor=south west,
 scale only axis,width=35.4pt,height=334.7pt,
 view={0}{90},
 xmin=0,xmax=1,ymin=0.3573,ymax=0.7813,
 point meta min=0.3573,point meta max=0.7813,
 colormap name=parula,
 axis on top,
 xtick=\empty,
 scaled y ticks=false,
 ytick={0.4,0.45,0.5,0.55,0.6,0.65,0.7,0.75},
 yticklabels={0.4,0.45,0.5,0.55,0.6,0.65,0.7,0.75},
 ytick pos=right,yticklabel pos=right,
 tick align=inside,major tick length=5pt,
 axis line style={axc,line width=0.8pt},tick style={axc,line width=0.8pt},
 tick label style={text=axc,font=\fontsize{16.5}{18}\selectfont},
]
\addplot3[surf,shader=interp] table {
0 0.3573 0.3573
1 0.3573 0.3573

0 0.4 0.4
1 0.4 0.4

0 0.45 0.45
1 0.45 0.45

0 0.5 0.5
1 0.5 0.5

0 0.55 0.55
1 0.55 0.55

0 0.6 0.6
1 0.6 0.6

0 0.65 0.65
1 0.65 0.65

0 0.7 0.7
1 0.7 0.7

0 0.75 0.75
1 0.75 0.75

0 0.7813 0.7813
1 0.7813 0.7813
};
\end{axis}
\end{tikzpicture}
\end{document}
